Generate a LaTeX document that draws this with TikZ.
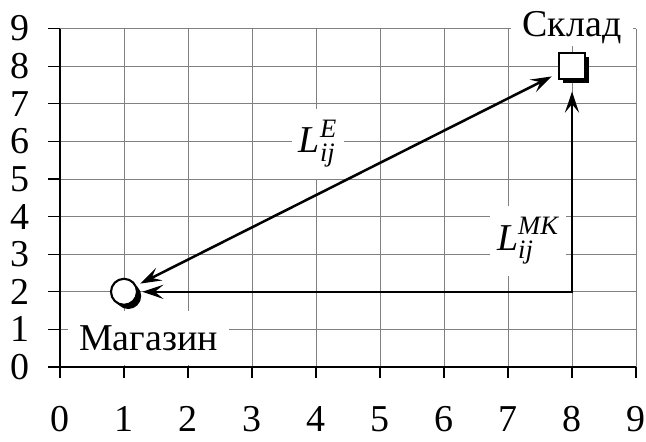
\documentclass[tikz,border=0pt]{standalone}
\usepackage{amsmath}
\usepackage{fontspec}
\setmainfont{Liberation Serif}
\usetikzlibrary{arrows.meta,shadows}

\begin{document}
\begin{tikzpicture}[
    x=1.6cm, y=0.94cm,
    font=\fontsize{27}{32}\selectfont,
    grid/.style={draw=black!50, line width=0.6pt},
    axis/.style={draw=black, line width=0.8pt},
    route/.style={{Stealth[length=15pt,width=10pt,inset=6pt]}-{Stealth[length=15pt,width=10pt,inset=6pt]}, line width=1.8pt},
    point/.style={draw, fill=white, line width=1.5pt,
      drop shadow={shadow xshift=3pt, shadow yshift=-3pt, fill=black, opacity=1}},
    tag/.style={fill=white, inner xsep=5pt, inner ysep=8pt}
  ]
    \useasboundingbox (-0.9375,-1.968) rectangle (9.156,9.761);
    % grid
    \foreach \i in {1,...,9} {
      \draw[grid] (\i,0) -- (\i,9);
      \draw[grid] (0,\i) -- (9,\i);
    }
    % axes and ticks
    \draw[axis] (-0.19,0) -- (9,0);
    \draw[axis] (0,-0.29) -- (0,9);
    \foreach \i in {0,...,9} {
      \draw[axis] (\i,0) -- (\i,-0.29);
      \draw[axis] (0,\i) -- (-0.19,\i);
      \node[anchor=base, inner sep=0pt] (xl\i) at (\i,-1.72) {\i};
      \node (yl\i) at (-0.625,\i) {\i};
    }

    \node[point, rectangle, minimum size=0.65cm] (sklad) at (8,8) {};
    \node[point, circle, minimum size=0.65cm] (magazin) at (1,2) {};
    \coordinate (corner) at (8,2);

    \draw[route, shorten <=3pt, shorten >=5pt] (magazin) -- (sklad);
    \draw[route, shorten <=3pt, shorten >=8pt] (magazin) -- (corner) -- (sklad);

    \node[tag, inner xsep=8pt, inner ysep=1pt, anchor=base] (skladtxt) at (8,8.78) {Склад};
    \node[tag, inner xsep=8pt, inner ysep=10pt, anchor=base] (magtxt) at (1.383,0.45) {Магазин};
    \node[tag] (le) at (4.03,5.94) {$\textit{L}^{\textit{E}}_{\textit{ij}}$};
    \node[tag] (lmk) at (7.31,3.35) {$\textit{L}^{\textit{MK}}_{\textit{ij}}$};
  \end{tikzpicture}
\end{document}
